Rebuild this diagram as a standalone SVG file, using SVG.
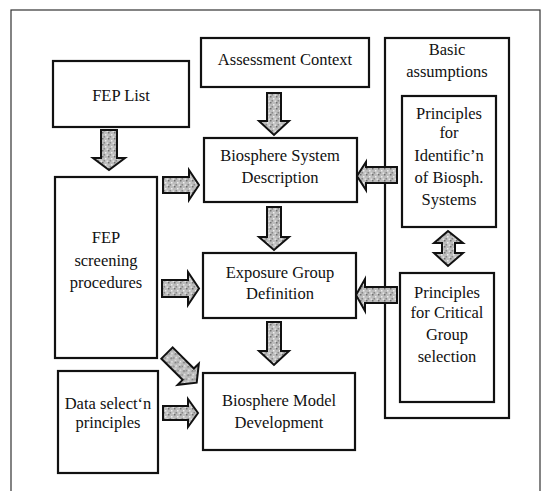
<svg xmlns="http://www.w3.org/2000/svg" width="544" height="491" viewBox="0 0 544 491">
<defs>
<pattern id="speck" width="6" height="6" patternUnits="userSpaceOnUse">
<rect width="6" height="6" fill="#bcbcbc"/>
<rect x="0" y="0" width="1.5" height="1.5" fill="#707070"/>
<rect x="3" y="2" width="1.5" height="1.5" fill="#ececec"/>
<rect x="1.5" y="4" width="1.5" height="1.5" fill="#888"/>
<rect x="4.5" y="4.5" width="1.5" height="1.5" fill="#e2e2e2"/>
</pattern>
<style>
.box{fill:#fff;stroke:#111;stroke-width:2.2}
.frame{fill:none;stroke:#333;stroke-width:1.2}
.arr{fill:url(#speck);stroke:#111;stroke-width:2;stroke-linejoin:miter}
.t{font-family:'Liberation Serif','Times New Roman','DejaVu Serif',serif;font-size:16.5px;fill:#111;text-anchor:middle}
</style>
</defs>
<rect class="frame" x="11" y="10" width="529" height="490"/>

<g class="t" font-family="Liberation Serif, Times New Roman, DejaVu Serif, serif">
<g id="fep-list"><rect class="box" x="53" y="61" width="136" height="66"/><text x="121" y="101">FEP List</text></g>
<g id="assessment-context"><rect class="box" x="201" y="38" width="168" height="49"/><text x="285" y="65">Assessment Context</text></g>
<g id="biosphere-system"><rect class="box" x="204" y="138" width="153" height="64"/><text x="280" y="161">Biosphere System</text><text x="280" y="183">Description</text></g>
<g id="basic-assumptions"><rect class="box" x="385" y="38" width="124" height="380"/><text x="447" y="55">Basic</text><text x="447" y="77">assumptions</text></g>
<g id="principles-identification"><rect class="box" x="402" y="96" width="94" height="131"/><text x="449" y="119">Principles</text><text x="449" y="138">for</text><text x="449" y="161">Identific’n</text><text x="449" y="183">of Biosph.</text><text x="449" y="205">Systems</text></g>
<g id="principles-critical"><rect class="box" x="400" y="273" width="94" height="129"/><text x="447" y="298">Principles</text><text x="447" y="318">for Critical</text><text x="447" y="340">Group</text><text x="447" y="362">selection</text></g>
<g id="exposure-group"><rect class="box" x="203" y="253" width="153" height="65"/><text x="280" y="278">Exposure Group</text><text x="280" y="299">Definition</text></g>
<g id="biosphere-model"><rect class="box" x="203" y="373" width="152" height="77"/><text x="279" y="406">Biosphere Model</text><text x="279" y="428">Development</text></g>
<g id="fep-screening"><rect class="box" x="55" y="177" width="102" height="181"/><text x="106" y="243">FEP</text><text x="106" y="266">screening</text><text x="106" y="288">procedures</text></g>
<g id="data-selection"><rect class="box" x="58" y="371" width="100" height="102"/><text x="108" y="409">Data select‘n</text><text x="108" y="428">principles</text></g>
</g>

<g id="connectors">
<polygon class="arr" points="101,130 117,130 117,158 125,158 109,170 93,158 101,158"/>
<polygon class="arr" points="267,93 281,93 281,121 289,121 274,135 259,121 267,121"/>
<polygon class="arr" points="267,207 281,207 281,237 289,237 274,250 259,237 267,237"/>
<polygon class="arr" points="267,322 281,322 281,351 289,351 274,365 259,351 267,351"/>
<polygon class="arr" points="163,177 189,177 189,170 199,185 189,200 189,193 163,193"/>
<polygon class="arr" points="162,280 188,280 188,272 199,288.5 188,305 188,297 162,297"/>
<polygon class="arr" points="163,406 188,406 188,399 198,413 188,427 188,420 163,420"/>
<polygon class="arr" transform="translate(167,353) rotate(45)" points="0,-8 30,-8 30,-15 42,0 30,15 30,8 0,8"/>
<polygon class="arr" points="397,167 366,167 366,162 357,176 366,190 366,183 397,183"/>
<polygon class="arr" points="397,287 365,287 365,279 356,295 365,311 365,303 397,303"/>
<polygon class="arr" points="448,231 463,243 455,243 455,253 463,253 448,266 434,253 442,253 442,243 434,243"/>
</g>
</svg>
